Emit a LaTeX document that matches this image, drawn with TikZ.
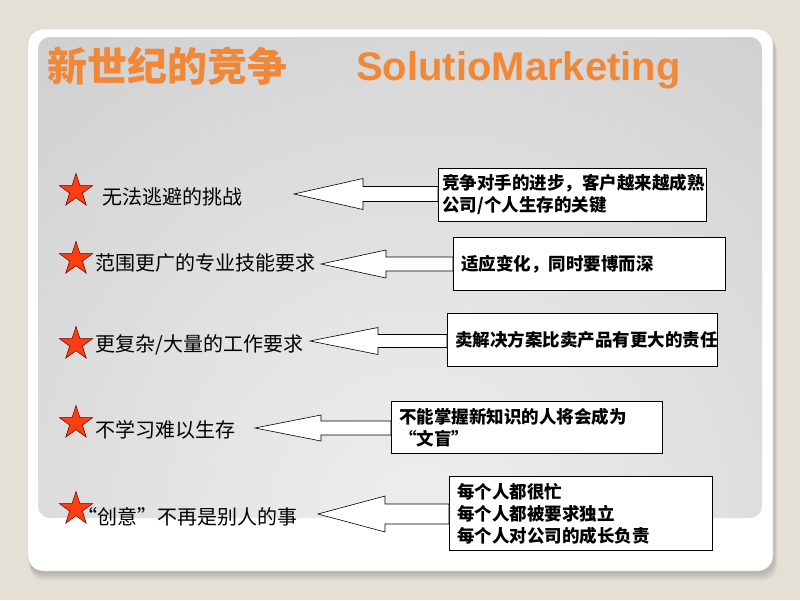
\documentclass[tikz,border=0pt]{standalone}
\usepackage{fontspec}
\setmainfont{Liberation Sans}
\newfontfamily\cjk{Noto Sans CJK SC}
\usepackage{tikz}
\usetikzlibrary{shapes.geometric, calc}
\definecolor{slidebg}{RGB}{229,224,214}
\definecolor{titleorange}{RGB}{240,136,56}
\definecolor{starred}{RGB}{250,62,18}
\definecolor{glowA}{RGB}{238,238,238}
\definecolor{glowB}{RGB}{229,229,229}
\definecolor{glowC}{RGB}{206,206,206}
\definecolor{glowD}{RGB}{186,186,186}
\definecolor{glowE}{RGB}{158,158,158}
\pgfdeclareradialshading{panelglow}{\pgfpoint{0bp}{0bp}}{color(0bp)=(glowA); color(8bp)=(glowB); color(25bp)=(glowC); color(38bp)=(glowD); color(50bp)=(glowE)}
\tikzstyle{redstar} = [star, star points=5, star point ratio=2.6, minimum size=35pt, inner sep=0pt, fill=starred, draw=black!60!red, line width=0.5pt]
\tikzstyle{item} = [anchor=west, inner sep=0pt, font=\cjk\fontsize{20}{24}\selectfont]
\tikzstyle{infobox} = [draw=black, fill=white, line width=0.7pt, anchor=north west, align=left, inner xsep=8pt, inner ysep=0pt, font=\cjk\bfseries\fontsize{17.5}{22}\selectfont]
\tikzstyle{blockarrow} = [draw=black, fill=white, line width=0.6pt, line join=miter]
\tikzstyle{title} = [anchor=base west, inner sep=0pt, text=titleorange]

\begin{document}
\begin{tikzpicture}[x=1pt, y=-1pt]
		\useasboundingbox (0,0) rectangle (800,600);
		\fill [slidebg] (0,0) rectangle (800,600);
		% card and its shadow
		\foreach \k in {1,...,6}
			\fill [black, opacity=0.035, rounded corners=15] (28+\k*0.3,29+\k*1.4) rectangle (773+\k*0.7,571+\k*1.6);
		\fill [white, rounded corners=15] (28,29) rectangle (773,571);
		\draw [black!20, line width=0.4pt, rounded corners=15] (28,29) rectangle (773,571);
		\begin{scope}
			\clip [rounded corners=12] (38,37) rectangle (762,518);
			\shade [shading=panelglow] (-220,-120) rectangle (1060,1160);
		\end{scope}

		% title
		\node (h1) [title, font=\cjk\bfseries\fontsize{40}{48}\selectfont] at (47,81) {新世纪的竞争};
		\node (h2) [title, font=\bfseries\fontsize{40}{48}\selectfont] at (356,80) {SolutioMarketing};

		% left column
		\node (s1) [redstar] at (76,191) {};
		\node (t1) [item] at (102,197) {无法逃避的挑战};
		\node (s2) [redstar] at (76,259) {};
		\node (t2) [item] at (95,263) {范围更广的专业技能要求};
		\node (s3) [redstar] at (76,344) {};
		\node (t3) [item] at (95,345) {更复杂/大量的工作要求};
		\node (s4) [redstar] at (76,423) {};
		\node (t4) [item] at (95,430) {不学习难以生存};
		\node (s5) [redstar] at (76,509) {};
		\node (t5) [item] at (77,517) {“创意”不再是别人的事};

		% right column
		\node (b1) [infobox, inner xsep=4pt, text width=260pt, minimum height=53pt] at (438,168) {竞争对手的进步，客户越来越成熟\\公司/个人生存的关键};
		\node (b2) [infobox, text width=256pt, minimum height=53pt] at (453,237) {适应变化，同时要博而深};
		\node (b3) [infobox, text width=254pt, minimum height=53pt] at (447,313) {卖解决方案比卖产品有更大的责任};
		\node (b4) [infobox, text width=255pt, minimum height=52pt] at (391,401) {不能掌握新知识的人将会成为\\“文盲”};
		\node (b5) [infobox, text width=247pt, minimum height=74pt] at (449,476) {每个人都很忙\\每个人都被要求独立\\每个人对公司的成长负责};

		% block arrows
		\coordinate (p1) at (294,194);
		\draw [blockarrow] (p1) -- ++(69,-15.5) -- ++(0,8) -- ($(b1.west |- p1)+(0,-7.5)$) -- ++(0,15) -- ($(p1)+(69,7.5)$) -- ++(0,8) -- cycle;
		\coordinate (p2) at (321,264);
		\draw [blockarrow] (p2) -- ++(65,-14) -- ++(0,7) -- ($(b2.west |- p2)+(0,-7)$) -- ++(0,14) -- ($(p2)+(65,7)$) -- ++(0,7) -- cycle;
		\coordinate (p3) at (310,341);
		\draw [blockarrow] (p3) -- ++(68,-13.5) -- ++(0,7) -- ($(b3.west |- p3)+(0,-6.5)$) -- ++(0,13) -- ($(p3)+(68,6.5)$) -- ++(0,7) -- cycle;
		\coordinate (p4) at (255,428);
		\draw [blockarrow] (p4) -- ++(66,-13) -- ++(0,6) -- ($(b4.west |- p4)+(0,-7)$) -- ++(0,14) -- ($(p4)+(66,7)$) -- ++(0,6) -- cycle;
		\coordinate (p5) at (318,514);
		\draw [blockarrow] (p5) -- ++(67,-18) -- ++(0,8) -- ($(b5.west |- p5)+(0,-10)$) -- ++(0,20) -- ($(p5)+(67,10)$) -- ++(0,8) -- cycle;
\end{tikzpicture}
\end{document}
